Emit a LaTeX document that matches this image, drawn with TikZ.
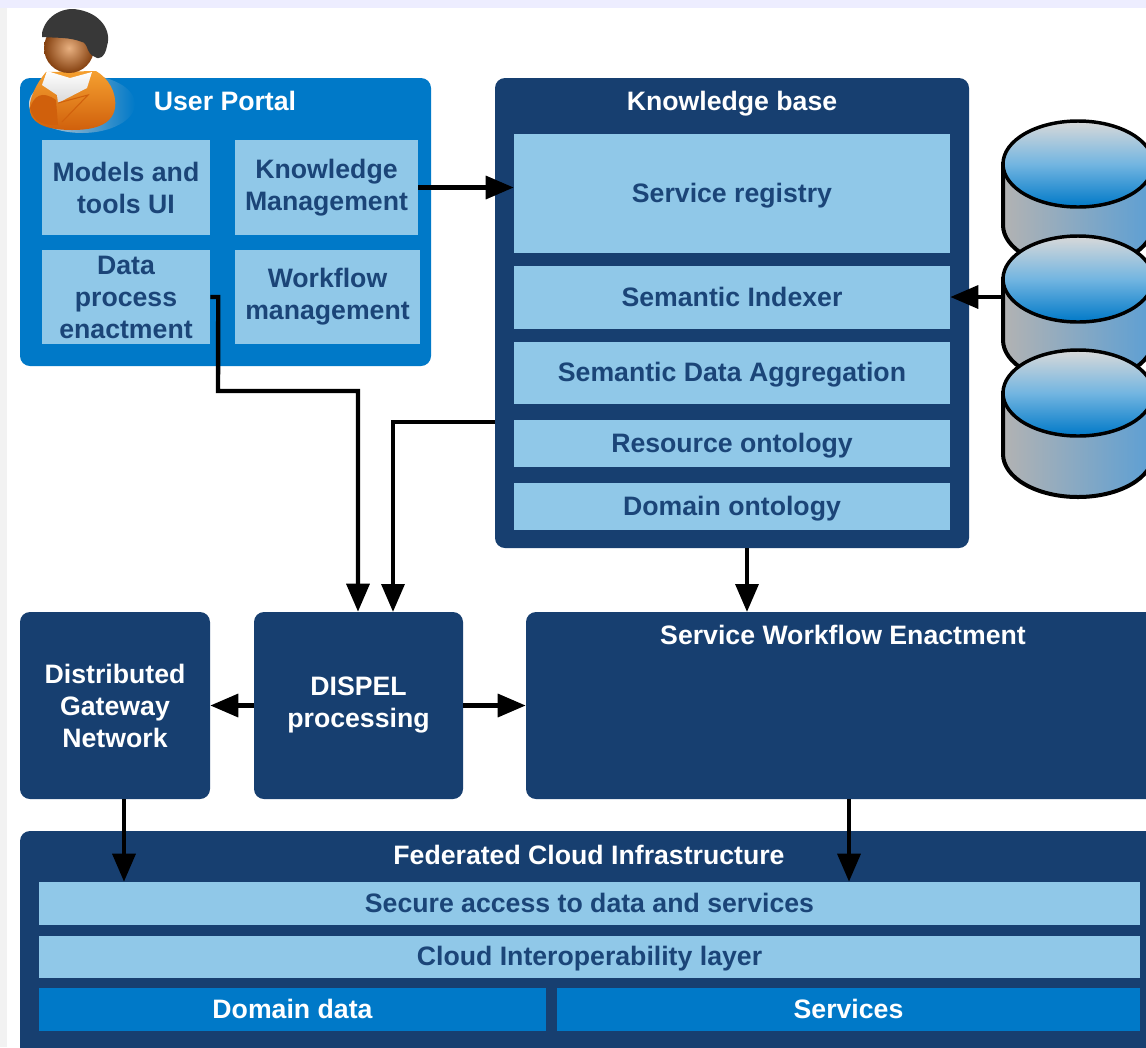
\documentclass[tikz,border=0pt]{standalone}
\usepackage{fontspec}
\setmainfont{Liberation Sans}
\usetikzlibrary{arrows.meta,calc}
\definecolor{navy}{HTML}{173F70}
\definecolor{midblue}{HTML}{0079C8}
\definecolor{pale}{HTML}{90C8E8}
\definecolor{inktext}{HTML}{1B4578}
\definecolor{skin}{HTML}{E8B080}
\definecolor{skindark}{HTML}{84400F}
\definecolor{coat}{HTML}{F5A030}
\definecolor{coatdark}{HTML}{D0600C}
\definecolor{sideblue}{HTML}{5C9FD4}
\newcommand{\pxbox}[7][]{%
  \pgfmathsetmacro{\bw}{(#5-#3)*.75}\pgfmathsetmacro{\bh}{(#6-#4)*.75}%
  \node[#1,minimum width=\bw pt,minimum height=\bh pt] (#2) at ({(#3+#5)/2},{(#4+#6)/2}) {#7};}
\newcommand{\cyl}[1]{%
  \path[left color=black!30,right color=sideblue,draw=black,line width=3pt]
    (1003,#1) -- (1003,#1+61) arc[x radius=75,y radius=43,start angle=180,end angle=0] -- (1153,#1) -- cycle;
  \path[top color=black!15,bottom color=midblue,middle color=midblue!55!white,draw=none]
    (1078,#1) ellipse[x radius=75,y radius=43];
  \draw[black,line width=2.6pt] (1078,#1) ellipse[x radius=75,y radius=43];}
\tikzset{
  x=.75pt,y=-.75pt,
  basefont/.style={font=\fontsize{20}{24}\bfseries\selectfont,align=center,inner sep=0pt},
  one/.style={text height=15pt,text depth=2.2pt},
  dark/.style={basefont,fill=navy,rounded corners=7.5pt,text=white},
  portal/.style={basefont,fill=midblue,rounded corners=7.5pt,text=white},
  lightbox/.style={basefont,fill=pale,text=inktext},
  bluebox/.style={basefont,fill=midblue,text=white},
  heading/.style={basefont,one,text=white},
  conn/.style={draw=black,line width=3.3pt,-{Triangle[length=21pt,width=17pt]}},
}
\begin{document}
\begin{tikzpicture}
\clip (0,0) rectangle (1146,1047);
\fill[white] (0,0) rectangle (1146,1047);
\fill[black!5] (0,0) rectangle (7,1047);
\fill[blue!7!white] (0,0) rectangle (1146,8);

% user portal
\pxbox[portal]{up}{20}{78}{431}{366}{}
\node[heading] (upt) at (225,102) {User Portal};
\pxbox[lightbox]{models}{42}{140}{210}{235}{Models and\\tools UI}
\pxbox[lightbox]{know}{235}{140}{418}{235}{Knowledge\\Management}
\pxbox[lightbox]{data}{42}{250}{210}{344}{Data\\process\\enactment}
\pxbox[lightbox]{wf}{235}{250}{420}{344}{Workflow\\management}

% person
\path[left color=black!18,right color=midblue] (82,104) ellipse[x radius=53,y radius=29];
\path[top color=coat,bottom color=coatdark,draw=none]
  (46,72) .. controls (36,84) and (28,100) .. (30,112) .. controls (33,126) and (52,130) .. (72,130)
  .. controls (92,130) and (112,126) .. (115,108) .. controls (117,92) and (108,78) .. (96,71) -- cycle;
\fill[coatdark] (30,108) .. controls (34,96) and (42,90) .. (56,100) -- (58,125) .. controls (44,126) and (33,122) .. (30,108) -- cycle;
\path[top color=white,bottom color=black!15]
  (47,71) -- (42,85) -- (57,95) -- (58,103) -- (87,88) -- (92,72) -- (70,78) -- cycle;
\draw[coatdark,line width=.8pt] (58,103) -- (88,95) -- (62,122);
\shade[inner color=skin,outer color=skindark] (69,48) circle[radius=25];
\fill[black!78] (42,33) .. controls (46,14) and (66,6) .. (80,10) .. controls (100,14) and (112,30) .. (107,46)
  .. controls (105,58) and (98,60) .. (95,57) .. controls (90,55) and (89,52) .. (88,50)
  .. controls (86,44) and (84,42) .. (82,42) .. controls (70,37) and (56,38) .. (42,37) -- cycle;

% knowledge base
\pxbox[dark]{kb}{495}{78}{969}{548}{}
\node[heading] (kbt) at (732,102) {Knowledge base};
\pxbox[lightbox,one]{sr}{514}{134}{950}{253}{Service registry}
\pxbox[lightbox,one]{si}{514}{266}{950}{329}{Semantic Indexer}
\pxbox[lightbox,one]{sa}{514}{342}{950}{404}{Semantic Data Aggregation}
\pxbox[lightbox,one]{ro}{514}{420}{950}{467}{Resource ontology}
\pxbox[lightbox,one]{dom}{514}{483}{950}{530}{Domain ontology}

% data stores
\cyl{164}\cyl{279}\cyl{393}
\coordinate (store) at (1003,297);

% middle row
\pxbox[dark]{dgn}{20}{612}{210}{799}{Distributed\\Gateway\\Network}
\pxbox[dark]{dispel}{254}{612}{463}{799}{DISPEL\\processing}
\pxbox[dark]{swe}{526}{612}{1160}{799}{}
\node[heading] (swet) at (843,636) {Service Workflow Enactment};

% cloud
\pxbox[dark]{fed}{20}{831}{1158}{1060}{}
\node[heading] (fedt) at (589,856) {Federated Cloud Infrastructure};
\pxbox[lightbox,one]{sec}{39}{882}{1140}{925}{Secure access to data and services}
\pxbox[lightbox,one]{interop}{39}{936}{1140}{978}{Cloud Interoperability layer}
\pxbox[bluebox,one]{ddata}{39}{988}{546}{1031}{Domain data}
\pxbox[bluebox,one]{svc}{557}{988}{1140}{1031}{Services}

% connectors
\coordinate (kbout) at (495,422);
\coordinate (dgndown) at (124,799);
\coordinate (swedown) at (849,799);
\draw[conn] (know.east) -- (know.east -| sr.west);
\draw[conn] (data.east) -- ++(8,0) -- (218,391) -- (358,391) -- (dispel.north -| 358,612);
\draw[conn] (kbout) -- (393,422) -- (393,612);
\draw[conn] (kb.south -| 747,0) -- (747,612);
\draw[conn] (store) -- (store -| si.east);
\draw[conn] (dispel.west) -- (dgn.east);
\draw[conn] (dispel.east) -- (swe.west);
\draw[conn] (dgndown) -- (dgndown |- sec.north);
\draw[conn] (swedown) -- (swedown |- sec.north);
\end{tikzpicture}
\end{document}
